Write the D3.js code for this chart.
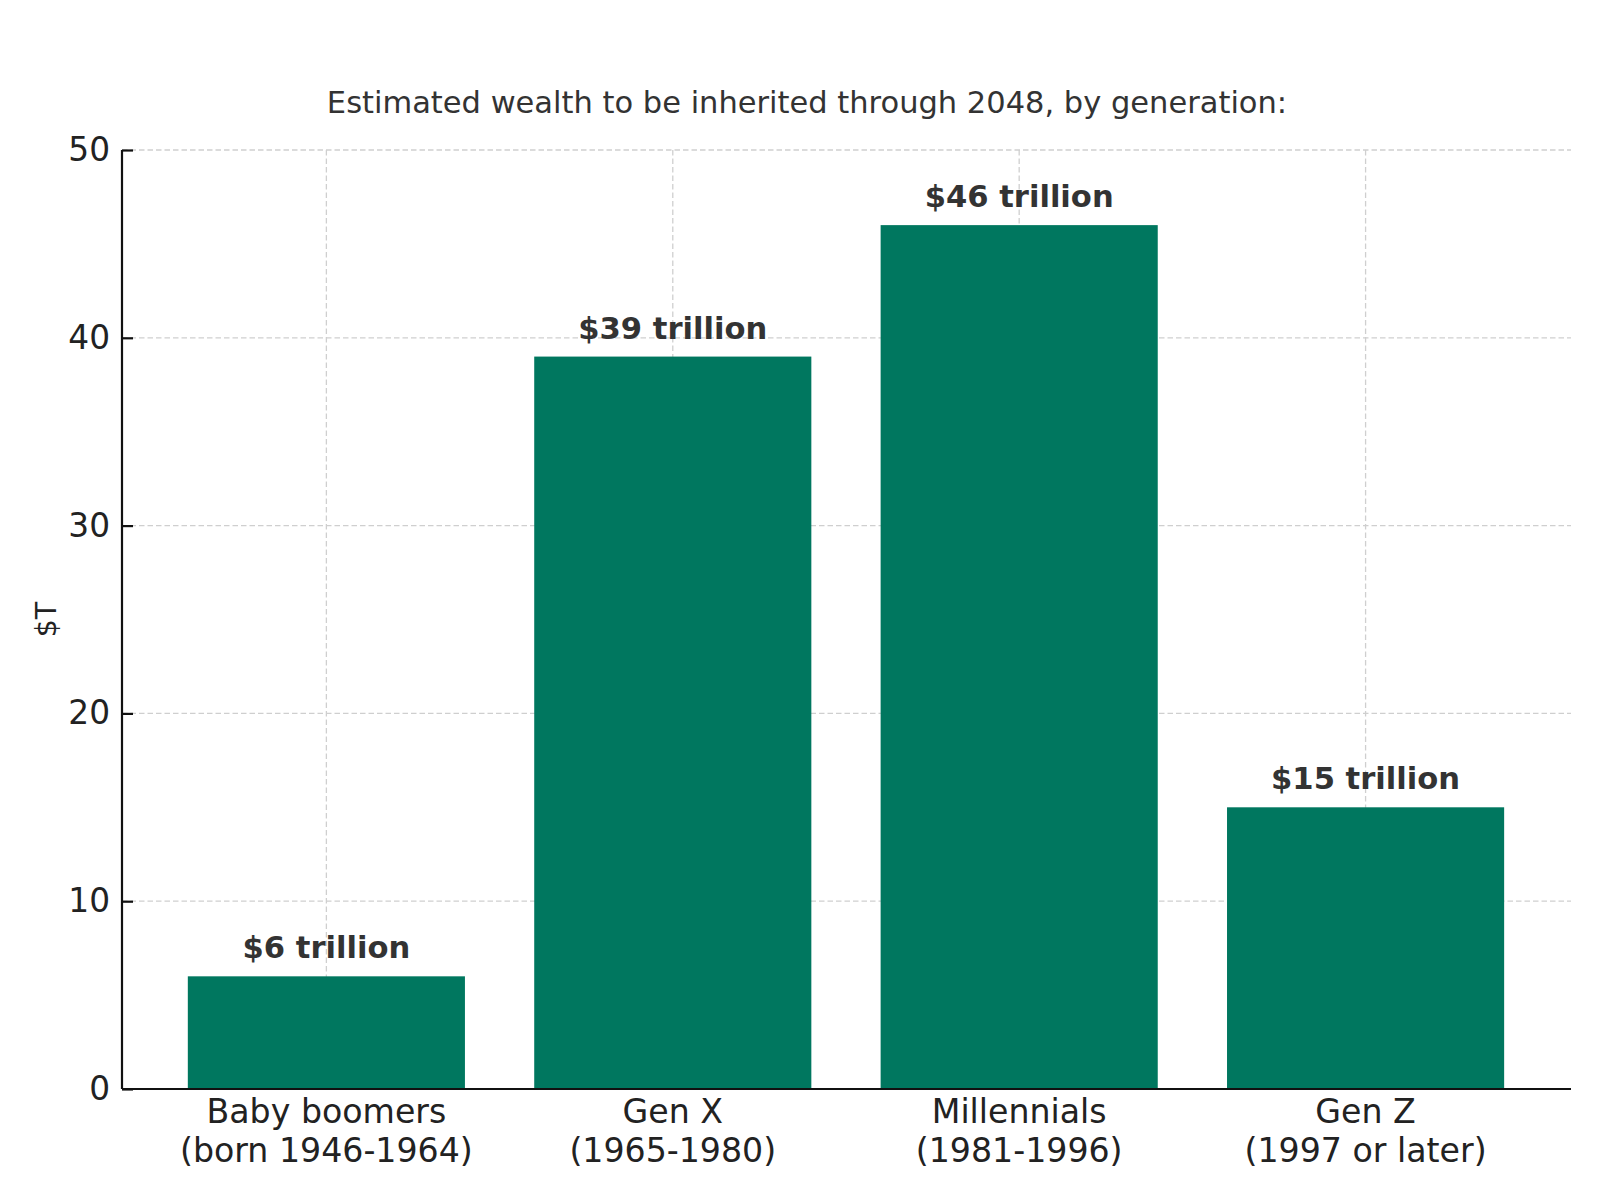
<!DOCTYPE html>
<html><head><meta charset="utf-8">
<script src="https://cdn.jsdelivr.net/npm/d3@7"></script>
<style>body{margin:0;background:#fff;} text{font-family:"DejaVu Sans",sans-serif;}</style>
</head><body>
<svg id="c" width="1600" height="1200"></svg>
<script>
const categories = ["Baby boomers\n(born 1946-1964)", "Gen X\n(1965-1980)", "Millennials\n(1981-1996)", "Gen Z\n(1997 or later)"];
const values = [6, 39, 46, 15];
const valueLabels = ["$6 trillion", "$39 trillion", "$46 trillion", "$15 trillion"];
const yTicks = [0, 10, 20, 30, 40, 50];
const title = "Estimated wealth to be inherited through 2048, by generation:";
const yLabel = "$T";

const svg = d3.select("#c");
const L = 122, R = 1571, T = 150, B = 1089;
const x = d3.scaleLinear().domain([-0.59, 3.593]).range([L, R]);
const y = d3.scaleLinear().domain([0, 50]).range([B, T]);
const step = x(1) - x(0);
const bw = step * 0.8;
const color = "#00775F";

// grid
const g = svg.append("g");
g.selectAll(".hg").data(yTicks).join("line")
  .attr("x1", L).attr("x2", R).attr("y1", d => y(d)).attr("y2", d => y(d))
  .attr("stroke", "#cfcfcf").attr("stroke-width", 1.3).attr("stroke-dasharray", "5.5,3");
g.selectAll(".vg").data(categories).join("line")
  .attr("x1", (d, i) => x(i)).attr("x2", (d, i) => x(i)).attr("y1", T).attr("y2", B)
  .attr("stroke", "#cfcfcf").attr("stroke-width", 1.3).attr("stroke-dasharray", "5.5,3");

// bars
svg.selectAll(".bar").data(values).join("rect")
  .attr("x", (d, i) => x(i) - bw / 2).attr("width", bw)
  .attr("y", d => y(d)).attr("height", d => y(0) - y(d))
  .attr("fill", color);

// value labels
svg.selectAll(".vl").data(values).join("text")
  .attr("x", (d, i) => x(i)).attr("y", d => y(d) - 18)
  .attr("text-anchor", "middle").attr("font-size", 30.6).attr("font-weight", "bold")
  .attr("fill", "#333333").text((d, i) => valueLabels[i]);

// y axis
const yAxis = d3.axisLeft(y).tickValues(yTicks).tickSize(-11).tickPadding(12).tickFormat(d3.format("d"));
const ya = svg.append("g").attr("transform", `translate(${L},0)`).call(yAxis);
ya.select(".domain").attr("stroke", "#111").attr("stroke-width", 2.2).attr("d", `M0,${B}V${T}`);
ya.selectAll(".tick line").attr("stroke", "#111").attr("stroke-width", 2.2);
ya.selectAll(".tick text").attr("font-size", 32.8).attr("fill", "#222").attr("font-family", "DejaVu Sans");

// x axis
const xa = svg.append("g");
xa.append("line").attr("x1", L).attr("x2", R).attr("y1", B).attr("y2", B).attr("stroke", "#111").attr("stroke-width", 2.2);
categories.forEach((c, i) => {
  const lines = c.split("\n");
  const t = xa.append("text").attr("x", x(i)).attr("y", B + 34).attr("text-anchor", "middle")
    .attr("font-size", 33.2).attr("fill", "#222");
  lines.forEach((ln, j) => t.append("tspan").attr("x", x(i)).attr("dy", j === 0 ? 0 : 39).text(ln));
});

// title
svg.append("text").attr("x", 807).attr("y", 113).attr("text-anchor", "middle")
  .attr("font-size", 30.5).attr("fill", "#333").text(title);

// y label
svg.append("text").attr("transform", `translate(56,${(T + B) / 2}) rotate(-90)`)
  .attr("text-anchor", "middle").attr("font-size", 28.5).attr("fill", "#222").text(yLabel);
</script>
</body></html>
